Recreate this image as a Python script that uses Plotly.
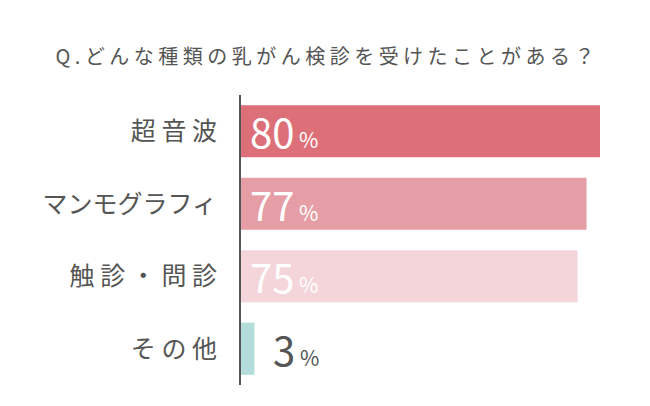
import plotly.graph_objects as go

categories = ["超音波", "マンモグラフィ", "触診・問診", "その他"]
tick_labels = ["超 音 波", "マンモグラフィ", "触 診 ・ 問 診", "そ の 他"]
values = [80, 77, 75, 3]
bar_colors = ["#DD6F79", "#E59DA6", "#F4D5DA", "#B3DDDA"]
label_colors = ["#FFFFFF", "#FFFFFF", "#FFFFFF", "#555555"]
title_text = "Q.どんな種類の乳がん検診を受けたことがある？"

FONT = "Noto Sans CJK JP"


def spaced(s):
    return " ".join(list(s))


fig = go.Figure()
fig.add_trace(go.Bar(
    y=categories,
    x=values,
    orientation="h",
    marker=dict(color=bar_colors, line=dict(width=0)),
    hoverinfo="skip",
))

for cat, v, c in zip(categories, values, label_colors):
    inside = v > 10
    fig.add_annotation(
        x=0 if inside else v,
        y=cat,
        xref="x", yref="y",
        xanchor="left", yanchor="middle",
        xshift=7 if inside else 17,
        yshift=0,
        showarrow=False,
        text=f"<span style='font-size:40px'>{v}</span><span style='font-size:21px'> %</span>",
        font=dict(family=FONT, color=c, size=40),
    )

fig.update_layout(
    width=650, height=406,
    margin=dict(l=241, r=50, t=95, b=21),
    paper_bgcolor="white", plot_bgcolor="white",
    showlegend=False,
    bargap=0.28,
    title=dict(
        text=spaced(title_text),
        x=0.5, xref="container", xanchor="center",
        y=1 - 57 / 406, yref="container", yanchor="middle",
        font=dict(family=FONT, size=20, color="#555555"),
    ),
    xaxis=dict(range=[0, 80], visible=False, fixedrange=True),
    yaxis=dict(
        categoryorder="array", categoryarray=categories[::-1],
        tickmode="array", tickvals=categories, ticktext=tick_labels,
        showline=True, linecolor="#555555", linewidth=2,
        ticks="", showgrid=False, zeroline=False,
        ticklabelstandoff=17,
        tickfont=dict(family=FONT, size=25, color="#555555"),
        fixedrange=True,
    ),
)

fig.write_html("out.html")
